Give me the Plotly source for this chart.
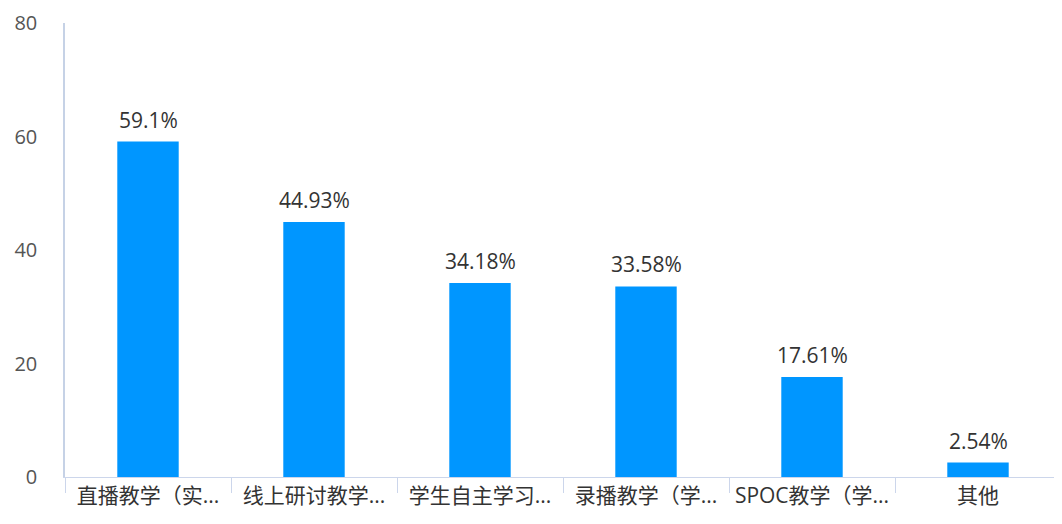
import plotly.graph_objects as go

categories = ["直播教学（实...", "线上研讨教学...", "学生自主学习...", "录播教学（学...", "SPOC教学（学...", "其他"]
values = [59.1, 44.93, 34.18, 33.58, 17.61, 2.54]
labels = ["59.1%", "44.93%", "34.18%", "33.58%", "17.61%", "2.54%"]
y_ticks = [0, 20, 40, 60, 80]

font_family = "Open Sans, Noto Sans CJK SC, sans-serif"

fig = go.Figure(go.Bar(
    x=categories, y=values,
    marker=dict(color="#0096FF", line=dict(width=0)),
    width=0.37, cliponaxis=False,
))

for c, v, t in zip(categories, values, labels):
    fig.add_annotation(
        x=c, y=v, text=t, showarrow=False, yanchor="bottom", yshift=6,
        font=dict(size=21, color="#333333", family=font_family),
    )

# page body has an 8px default margin; compensate in the plot margins
fig.update_layout(
    width=1062, height=524,
    margin=dict(l=57, r=9, t=15, b=55, autoexpand=False),
    paper_bgcolor="white", plot_bgcolor="white",
    showlegend=False,
    font=dict(family=font_family),
)
fig.update_xaxes(
    showline=True, linecolor="#ccd6eb", linewidth=1,
    ticks="outside", tickson="boundaries", ticklen=15, tickcolor="#ccd6eb",
    tickfont=dict(size=21, color="#333333", family=font_family),
    showgrid=False, automargin=False,
)
fig.update_yaxes(
    range=[0, 80], tickvals=y_ticks,
    showline=True, linecolor="#c6d2e6", linewidth=1.5,
    showgrid=False, zeroline=False, automargin=False,
    ticks="", ticklabelstandoff=22,
    tickfont=dict(size=20, color="#555555", family=font_family),
)

fig.write_html("out.html")
